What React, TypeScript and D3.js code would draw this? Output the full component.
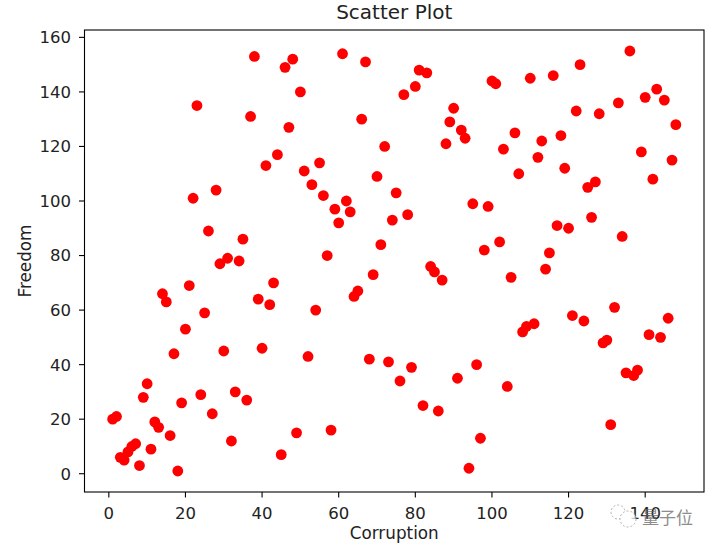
import React from 'react';
import * as d3 from 'd3';

// Corruption rank (x) and Freedom rank (y)
const corruption = [
  1, 2, 3, 4, 5, 6, 7, 8, 9, 10, 11, 12, 13, 14, 15, 16, 17, 18, 19, 20,
  21, 22, 23, 24, 25, 26, 27, 28, 29, 30, 31, 32, 33, 34, 35, 36, 37, 38, 39, 40,
  41, 42, 43, 44, 45, 46, 47, 48, 49, 50, 51, 52, 53, 54, 55, 56, 57, 58, 59, 60,
  61, 62, 63, 64, 65, 66, 67, 68, 69, 70, 71, 72, 73, 74, 75, 76, 77, 78, 79, 80,
  81, 82, 83, 84, 85, 86, 87, 88, 89, 90, 91, 92, 93, 94, 95, 96, 97, 98, 99, 100,
  101, 102, 103, 104, 105, 106, 107, 108, 109, 110, 111, 112, 113, 114, 115, 116, 117, 118, 119, 120,
  121, 122, 123, 124, 125, 126, 127, 128, 129, 130, 131, 132, 133, 134, 135, 136, 137, 138, 139, 140,
  141, 142, 143, 144, 145, 146, 147, 148,
];

const freedom = [
  20, 21, 6, 5, 8, 10, 11, 3, 28, 33, 9, 19, 17, 66, 63, 14, 44, 1, 26, 53,
  69, 101, 135, 29, 59, 89, 22, 104, 77, 45, 79, 12, 30, 78, 86, 27, 131, 153, 64, 46,
  113, 62, 70, 117, 7, 149, 127, 152, 15, 140, 111, 43, 106, 60, 114, 102, 80, 16, 97, 92,
  154, 100, 96, 65, 67, 130, 151, 42, 73, 109, 84, 120, 41, 93, 103, 34, 139, 95, 39, 142,
  148, 25, 147, 76, 74, 23, 71, 121, 129, 134, 35, 126, 123, 2, 99, 40, 13, 82, 98, 144,
  143, 85, 119, 32, 72, 125, 110, 52, 54, 145, 55, 116, 122, 75, 81, 146, 91, 124, 112, 90,
  58, 133, 150, 56, 105, 94, 107, 132, 48, 49, 18, 61, 136, 87, 37, 155, 36, 38, 118, 138,
  51, 108, 141, 50, 137, 57, 115, 128,
];

const xTicks = [0, 20, 40, 60, 80, 100, 120, 140];
const yTicks = [0, 20, 40, 60, 80, 100, 120, 140, 160];

const W = 716;
const H = 548;
const plot = { left: 84.5, right: 704, top: 30, bottom: 492 };
const font = 'DejaVu Sans, sans-serif';

// matplotlib-style 5% margins around the data extent
const padded = (vals: number[]) => {
  const [lo, hi] = d3.extent(vals) as [number, number];
  const p = (hi - lo) * 0.05;
  return [lo - p, hi + p];
};

const App: React.FC = () => {
  const x = d3.scaleLinear().domain(padded(corruption)).range([plot.left, plot.right]);
  const y = d3.scaleLinear().domain(padded(freedom)).range([plot.bottom, plot.top]);
  const points = corruption.map((c, i) => ({ c, f: freedom[i] }));
  const cx = (plot.left + plot.right) / 2;
  const cy = (plot.top + plot.bottom) / 2;

  return (
    <svg
      width={W}
      height={H}
      style={{ position: 'absolute', left: 0, top: 0, background: '#fff' }}
      fontFamily={font}
    >
      <rect x={0} y={0} width={W} height={H} fill="#fff" />
      <g>
        {points.map((d, i) => (
          <circle key={i} cx={x(d.c)} cy={y(d.f)} r={5.4} fill="#ff0000" />
        ))}
      </g>
      <rect
        x={plot.left}
        y={plot.top}
        width={plot.right - plot.left}
        height={plot.bottom - plot.top}
        fill="none"
        stroke="#000"
        strokeWidth={1.1}
      />
      {xTicks.map((t) => (
        <g key={t} transform={`translate(${x(t)},${plot.bottom})`}>
          <line y1={0} y2={5.5} stroke="#000" strokeWidth={1.1} />
          <text y={26.5} textAnchor="middle" fontSize={16.5} fill="#222">
            {t}
          </text>
        </g>
      ))}
      {yTicks.map((t) => (
        <g key={t} transform={`translate(${plot.left},${y(t)})`}>
          <line x1={0} x2={-5.5} stroke="#000" strokeWidth={1.1} />
          <text x={-13.5} dy="0.36em" textAnchor="end" fontSize={16.5} fill="#222">
            {t}
          </text>
        </g>
      ))}
      <text x={cx} y={538.5} textAnchor="middle" fontSize={16.8} fill="#222">
        Corruption
      </text>
      <text
        transform={`translate(30.5,${cy}) rotate(-90)`}
        textAnchor="middle"
        fontSize={16.8}
        fill="#222"
      >
        Freedom
      </text>
      <text x={cx} y={18.7} textAnchor="middle" fontSize={20} fill="#222">
        Scatter Plot
      </text>
      <g opacity={0.75}>
        <circle cx={618} cy={512} r={7} fill="#fff" stroke="#999" strokeWidth={1} strokeDasharray="2 2" />
        <circle cx={628} cy={519} r={8} fill="#fff" stroke="#999" strokeWidth={1} strokeDasharray="2 2" />
        <text x={642} y={524} fontSize={17} fill="#666" fontFamily="Noto Sans CJK SC">
          量子位
        </text>
      </g>
    </svg>
  );
};

export default App;
